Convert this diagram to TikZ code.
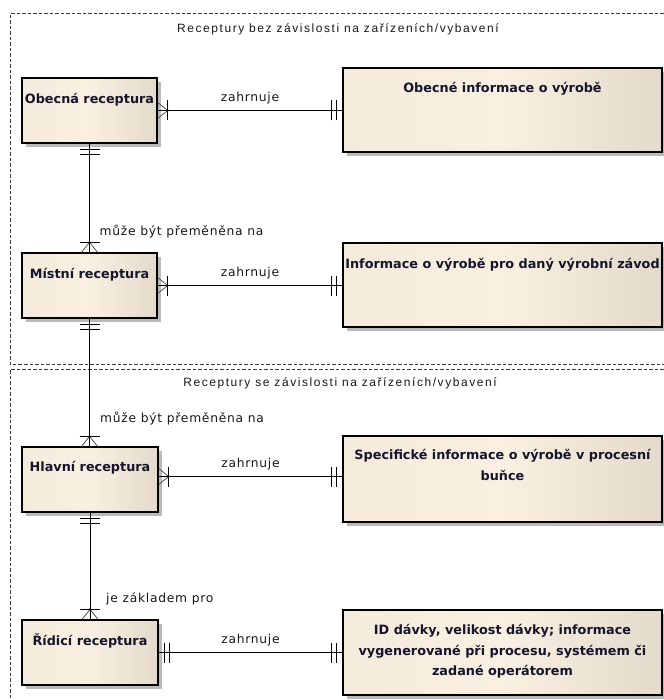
\documentclass[tikz,border=0pt]{standalone}
\usepackage{fontspec}
\setmainfont{DejaVu Sans}
\newfontfamily\lblfont[LetterSpace=6]{DejaVu Sans}
\newfontfamily\ttlfont[LetterSpace=13]{Liberation Sans}
\usetikzlibrary{shadows,calc}

\definecolor{beigeL}{HTML}{F5EBDC}
\definecolor{beigeM}{HTML}{FAF0E2}
\definecolor{beigeR}{HTML}{E3DACB}
\definecolor{frameC}{HTML}{3A3A3A}
\definecolor{inkC}{HTML}{15152B}
\definecolor{shadowC}{HTML}{BABABA}

% invisible strut so that every entity caption starts at the same height
\newcommand\capstrut{\rule{0pt}{0.95em}}

\tikzset{
  entity/.style={draw=black, line width=1.3pt, inner sep=0pt,
    left color=beigeL, right color=beigeR, middle color=beigeM,
    drop shadow={shadow xshift=4pt, shadow yshift=-4pt, fill=shadowC, opacity=1}},
  smallent/.style={entity, minimum width=135pt, minimum height=65pt},
  bigent/.style={entity, minimum width=319pt},
  ecaption/.style={anchor=north, inner sep=0pt, align=center, text=inkC,
    font=\fontsize{12.8}{20.5}\selectfont\bfseries},
  relname/.style={inner sep=0pt, text=black!90, font=\lblfont\fontsize{12.3}{14}\selectfont},
  areatitle/.style={inner sep=0pt, text=black!90, font=\ttlfont\fontsize{12}{14}\selectfont},
  frameline/.style={draw=frameC, line width=1pt, dash pattern=on 3.5pt off 2pt},
  relline/.style={draw=black, line width=1pt},
  barline/.style={line width=1.2pt, black},
  toeline/.style={line width=0.7pt, black!75},
  % one-or-many end: toes on the entity edge, bar at the joint
  pics/crow/.style={code={
    \draw[toeline] (0,-8) -- (10,0) -- (0,8);
    \draw[barline] (10,-10) -- (10,10);
    \fill[black] (10,0) circle (1.3pt);
  }},
  % exactly-one end: two bars
  pics/twobar/.style={code={
    \draw[barline] (6,-10) -- (6,10);
    \draw[barline] (11,-10) -- (11,10);
  }},
}

\begin{document}
\begin{tikzpicture}[x=1pt, y=-1pt]
\useasboundingbox (0,0) rectangle (663,700);
\fill[white] (0,0) rectangle (663,700);

% dashed area frames
\draw[frameline] (680,14) -- (10,14) -- (10,364) -- (680,364);
\draw[frameline] (680,369) -- (10,369) -- (10,715);
\node[areatitle] (area1) at (338,29) {Receptury bez závislosti na zařízeních/vybavení};
\node[areatitle] (area2) at (340,383) {Receptury se závislosti na zařízeních/vybavení};

% entities
\node[smallent] (obecna) at (89.5,110.5) {};
\node[smallent] (mistni) at (89.5,285.5) {};
\node[smallent, minimum width=136pt] (hlavni) at (90,479.5) {};
\node[smallent, minimum width=136pt] (ridici) at (90,652.5) {};

\node[bigent, minimum height=84pt] (obinfo) at (502.5,110) {};
\node[bigent, minimum height=84pt] (zavinfo) at (502.5,285) {};
\node[bigent, minimum height=86pt] (bunkainfo) at (502.5,479) {};
\node[bigent, minimum height=85pt] (davkainfo) at (502.5,652.5) {};

% captions
\node[ecaption] (obecna-t) at ([yshift=-13.5pt]obecna.north) {\capstrut Obecná receptura};
\node[ecaption] (mistni-t) at ([yshift=-13.5pt]mistni.north) {\capstrut Místní receptura};
\node[ecaption] (hlavni-t) at ([yshift=-13pt]hlavni.north) {\capstrut Hlavní receptura};
\node[ecaption] (ridici-t) at ([yshift=-13.5pt]ridici.north) {\capstrut Řídicí receptura};
\node[ecaption] (obinfo-t) at ([yshift=-13pt]obinfo.north) {\capstrut Obecné informace o výrobě};
\node[ecaption] (zavinfo-t) at ([yshift=-14pt]zavinfo.north) {\capstrut Informace o výrobě pro daný výrobní závod};
\node[ecaption] (bunkainfo-t) at ([yshift=-12pt]bunkainfo.north) {\capstrut Specifické informace o výrobě v procesní\\buňce};
\node[ecaption] (davkainfo-t) at ([yshift=-13pt]davkainfo.north) {\capstrut ID dávky, velikost dávky; informace\\vygenerované při procesu, systémem či\\zadané operátorem};

% "zahrnuje" relations
\draw[relline] (obecna.east) -- (obecna.east -| obinfo.west)
  node[relname, midway, above=6pt] (rel1) {zahrnuje};
\pic at (obecna.east) {crow};
\pic[rotate=180] at (obecna.east -| obinfo.west) {twobar};

\draw[relline] (mistni.east) -- (mistni.east -| zavinfo.west)
  node[relname, midway, above=6pt] (rel2) {zahrnuje};
\pic at (mistni.east) {crow};
\pic[rotate=180] at (mistni.east -| zavinfo.west) {twobar};

\coordinate (hl-r) at ([yshift=3pt]hlavni.east);
\draw[relline] (hl-r) -- (hl-r -| bunkainfo.west)
  node[relname, midway, above=6pt] (rel3) {zahrnuje};
\pic at (hl-r) {crow};
\pic[rotate=180] at (hl-r -| bunkainfo.west) {twobar};

\draw[relline] (ridici.east) -- (ridici.east -| davkainfo.west)
  node[relname, midway, above=6pt] (rel4) {zahrnuje};
\pic at (ridici.east) {twobar};
\pic[rotate=180] at (ridici.east -| davkainfo.west) {twobar};

% vertical chain of recipes
\draw[relline] (obecna.south) -- (mistni.north);
\pic[rotate=-90] at (obecna.south) {twobar};
\pic[rotate=90] at (mistni.north) {crow};
\node[relname, anchor=west] (conv1) at ([xshift=10pt, yshift=21pt]mistni.north) {může být přeměněna na};

\draw[relline] (mistni.south) -- (mistni.south |- hlavni.north);
\pic[rotate=-90] at (mistni.south) {twobar};
\pic[rotate=90] at (mistni.south |- hlavni.north) {crow};
\node[relname, anchor=west] (conv2) at ([xshift=10pt, yshift=28pt]hlavni.north) {může být přeměněna na};

\draw[relline] (hlavni.south) -- (ridici.north);
\pic[rotate=-90] at (hlavni.south) {twobar};
\pic[rotate=90] at (ridici.north) {crow};
\node[relname, anchor=west] (base1) at ([xshift=16pt, yshift=20pt]ridici.north) {je základem pro};
\end{tikzpicture}
\end{document}
